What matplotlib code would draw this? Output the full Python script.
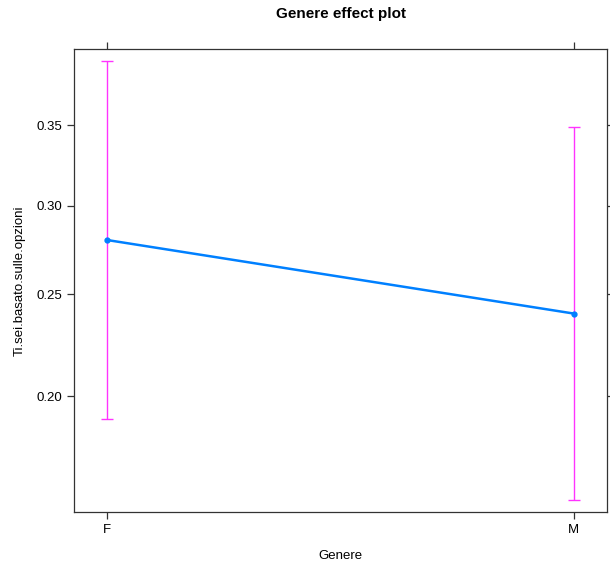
import matplotlib
matplotlib.use("Agg")
import matplotlib.pyplot as plt
import numpy as np
from matplotlib.ticker import FixedLocator, FixedFormatter, NullLocator

plt.rcParams["font.family"] = ["Liberation Sans", "DejaVu Sans"]

levels = ["F", "M"]
fit = [0.280, 0.240]
lower = [0.190, 0.157]
upper = [0.392, 0.349]
yticks = [0.20, 0.25, 0.30, 0.35]
ytick_labels = ["0.20", "0.25", "0.30", "0.35"]

fig = plt.figure(figsize=(6.1, 5.66), dpi=100)
ax = fig.add_axes([0.1213, 0.0954, 0.8738, 0.818])

x = np.arange(1, len(levels) + 1)
ax.plot(x, fit, "-o", color="#0080ff", lw=1.8, ms=3.5, zorder=3)
yerr = [np.array(fit) - np.array(lower), np.array(upper) - np.array(fit)]
ax.errorbar(x, fit, yerr=yerr, fmt="none", ecolor="#ff33ff", elinewidth=1.0,
            capsize=4, capthick=1.0, zorder=2)

ax.set_yscale("logit")
ax.set_ylim(0.1526, 0.4004)
ax.set_xlim(0.929, 2.071)
ax.yaxis.set_major_locator(FixedLocator(yticks))
ax.yaxis.set_major_formatter(FixedFormatter(ytick_labels))
ax.yaxis.set_minor_locator(NullLocator())
ax.set_xticks(x)
ax.set_xticklabels(levels)

ax.tick_params(axis="both", direction="out", length=5, width=0.9, colors="#333333",
               labelcolor="black", labelsize=9.5, top=True, right=True)
for s in ax.spines.values():
    s.set_color("#333333")
    s.set_linewidth(0.9)

ax.set_title("Genere effect plot", fontsize=11, fontweight="bold", pad=22)
ax.set_xlabel("Genere", fontsize=9.5, labelpad=10)
ax.set_ylabel("Ti.sei.basato.sulle.opzioni", fontsize=9.5, labelpad=8)

fig.savefig("out.png", dpi=100)
